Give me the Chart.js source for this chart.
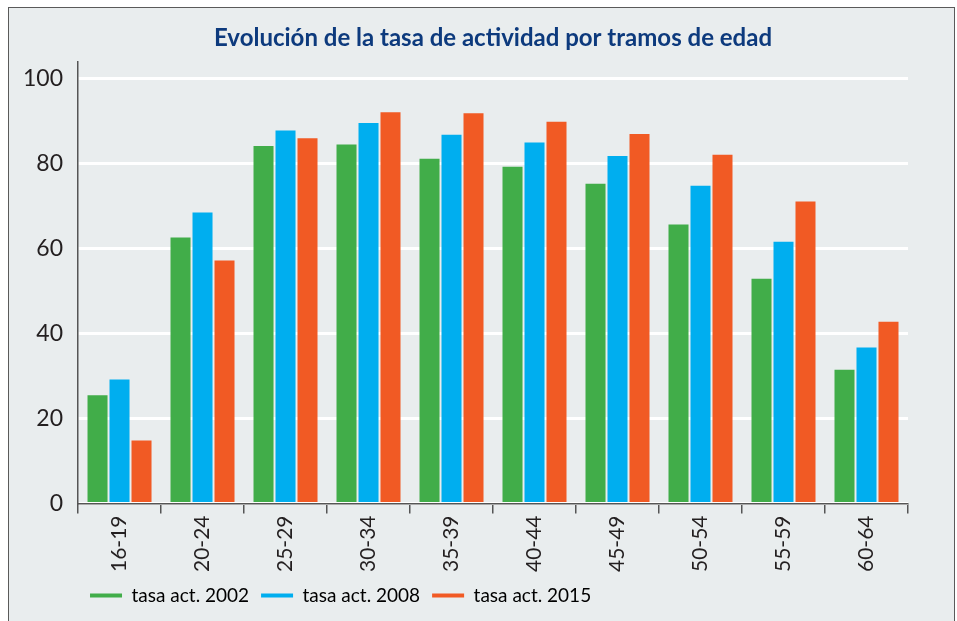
<!DOCTYPE html>
<html>
<head>
<meta charset="utf-8">
<script src="https://cdn.jsdelivr.net/npm/chart.js@4.4.1/dist/chart.umd.min.js"></script>
<style>
  html, body { margin: 0; padding: 0; background: #fff; }
  #frame {
    position: absolute; left: 8px; top: 7px; width: 947px; height: 620px;
    background: #e9edee; border: 1.5px solid #5a5a5a; box-sizing: border-box;
  }
  #wrap { position: absolute; left: 0; top: 0; width: 957px; height: 621px; }
</style>
</head>
<body>
<div id="frame"></div>
<div id="wrap"><canvas id="chart"></canvas></div>
<script>
const ageGroups = ["16-19", "20-24", "25-29", "30-34", "35-39", "40-44", "45-49", "50-54", "55-59", "60-64"];
const rate2002 = [25.5, 62.6, 84.2, 84.5, 81.2, 79.3, 75.3, 65.7, 52.9, 31.5];
const rate2008 = [29.2, 68.5, 87.8, 89.6, 86.8, 85.0, 81.8, 74.8, 61.6, 36.7];
const rate2015 = [14.8, 57.2, 86.0, 92.1, 91.9, 89.9, 87.0, 82.1, 71.1, 42.8];
const seriesNames = ["tasa act. 2002", "tasa act. 2008", "tasa act. 2015"];
const yTicks = [0, 20, 40, 60, 80, 100];

const colors = ["#41ad49", "#00aeef", "#f15a24"];
const tickFont = "Lato, sans-serif";

// Chart.js
const ctx = document.getElementById("chart").getContext("2d");
new Chart(ctx, {
  type: "bar",
  data: {
    labels: ageGroups,
    datasets: [rate2002, rate2008, rate2015].map((vals, i) => ({
      label: seriesNames[i],
      data: vals,
      backgroundColor: colors[i],
      categoryPercentage: 0.795,
      barPercentage: 0.91
    }))
  },
  options: {
    responsive: true,
    maintainAspectRatio: false,
    animation: false,
    layout: { padding: { left: 8, right: 49, top: 24, bottom: 6 } },
    plugins: {
      title: {
        display: true,
        fullSize: false,
        text: "Evolución de la tasa de actividad por tramos de edad",
        color: "#0d3a7d",
        font: { family: "Lato, sans-serif", size: 24, weight: "bold" },
        padding: { top: 0, bottom: 9 }
      },
      legend: {
        position: "bottom",
        align: "start",
        fullSize: false,
        labels: {
          usePointStyle: true,
          pointStyleWidth: 32,
          padding: 12,
          color: "#231f20",
          font: { family: "Lato, sans-serif", size: 19 },
          generateLabels: chart => chart.data.datasets.map((ds, i) => ({
            text: ds.label,
            fillStyle: ds.backgroundColor,
            strokeStyle: ds.backgroundColor,
            lineWidth: 4,
            pointStyle: "line",
            hidden: false,
            datasetIndex: i
          }))
        }
      },
      tooltip: { enabled: false }
    },
    scales: {
      x: {
        grid: {
          offset: true,
          drawOnChartArea: false,
          color: "#555",
          lineWidth: 1.5,
          tickLength: 10
        },
        border: { color: "#555", width: 1.5 },
        ticks: {
          autoSkip: false,
          minRotation: 90,
          maxRotation: 90,
          padding: 2,
          color: "#231f20",
          font: { family: tickFont, size: 21 }
        }
      },
      y: {
        min: 0,
        max: 104,
        afterBuildTicks: axis => { axis.ticks = yTicks.map(v => ({ value: v })); },
        grid: { color: "#ffffff", lineWidth: 3, drawTicks: false },
        border: { color: "#555", width: 1.5 },
        ticks: {
          padding: 15,
          color: "#231f20",
          font: { family: tickFont, size: 23 }
        }
      }
    }
  }
});
</script>
</body>
</html>
